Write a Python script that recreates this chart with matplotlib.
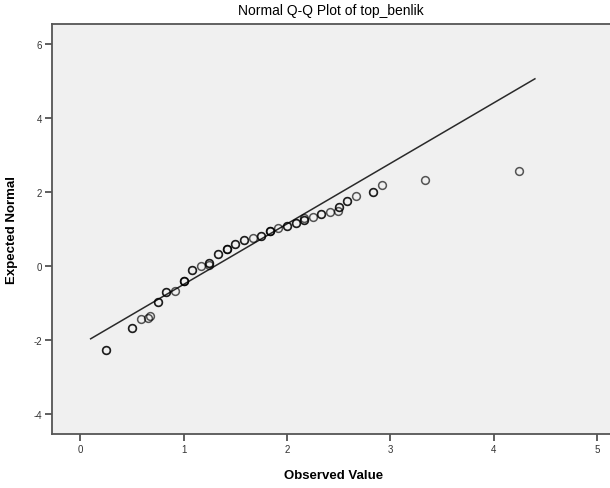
import matplotlib
matplotlib.use("Agg")
import matplotlib.pyplot as plt
import numpy as np

plt.rcParams['font.family'] = ['Liberation Sans', 'DejaVu Sans']
plt.rcParams['axes.unicode_minus'] = False

title = "Normal Q-Q Plot of top_benlik"
xlabel = "Observed Value"
ylabel = "Expected Normal"

observed = [0.25, 0.50, 0.583, 0.66, 0.67, 0.75, 0.833, 0.917, 1.00, 1.083,
            1.167, 1.25, 1.25, 1.333, 1.417, 1.50, 1.583, 1.667, 1.75, 1.833,
            1.917, 2.00, 2.083, 2.167, 2.167, 2.25, 2.333, 2.417, 2.49, 2.50,
            2.583, 2.667, 2.833, 2.917, 3.333, 4.25]
expected = [-2.27, -1.68, -1.44, -1.41, -1.34, -0.97, -0.69, -0.67, -0.405, -0.10,
            -0.01, 0.03, 0.08, 0.32, 0.47, 0.59, 0.69, 0.76, 0.82, 0.94,
            1.04, 1.07, 1.16, 1.24, 1.30, 1.33, 1.40, 1.45, 1.49, 1.59,
            1.76, 1.90, 2.01, 2.19, 2.33, 2.58]
counts = [2, 2, 1, 1, 1, 2, 2, 1, 3, 2,
          1, 1, 2, 2, 3, 2, 2, 1, 2, 3,
          1, 2, 2, 2, 1, 1, 2, 1, 1, 2,
          2, 1, 2, 1, 1, 1]

line_x = [0.10, 4.40]
line_mean = 1.304
line_sd = 0.612

xticks = [0, 1, 2, 3, 4, 5]
yticks = [-4, -2, 0, 2, 4, 6]

fig = plt.figure(figsize=(6.10, 4.89), dpi=100)
ax = fig.add_axes([52/610, (489-435)/489, 1 - 52/610 + 0.01, (435-25)/489])
ax.set_facecolor('#F0F0F0')

lx = np.array(line_x)
ax.plot(lx, (lx - line_mean) / line_sd, color='#2a2a2a', lw=1.1, zorder=2)

for x, y, c in zip(observed, expected, counts):
    for _ in range(c):
        ax.plot([x], [y], linestyle='none', marker='o', markersize=5.6,
                markerfacecolor='none', markeredgecolor='black',
                markeredgewidth=1.1, alpha=0.65, zorder=3)

ax.set_xlim(-0.274, 5.186)
ax.set_ylim(-4.54, 6.54)
ax.set_xticks(xticks)
ax.set_yticks(yticks)
ax.tick_params(axis='both', direction='out', length=5, width=1.2, color='#444444',
               labelsize=7, labelcolor='#333333', pad=2)

for side in ['left', 'bottom', 'top']:
    ax.spines[side].set_color('#555555')
    ax.spines[side].set_linewidth(1.3)
ax.spines['right'].set_visible(False)

ax.set_xlabel(xlabel, fontsize=9.5, fontweight='bold')
ax.set_ylabel(ylabel, fontsize=9.5, fontweight='bold')
ax.xaxis.set_label_coords((331 - 52) / 558, (435 - 470) / 410)
ax.yaxis.set_label_coords((18 - 52) / 558, 0.5)
fig.text((52 + 610) / 2 / 610, 1 - 11 / 489, title, ha='center', va='center', fontsize=10)

fig.savefig('out.png', dpi=100)
